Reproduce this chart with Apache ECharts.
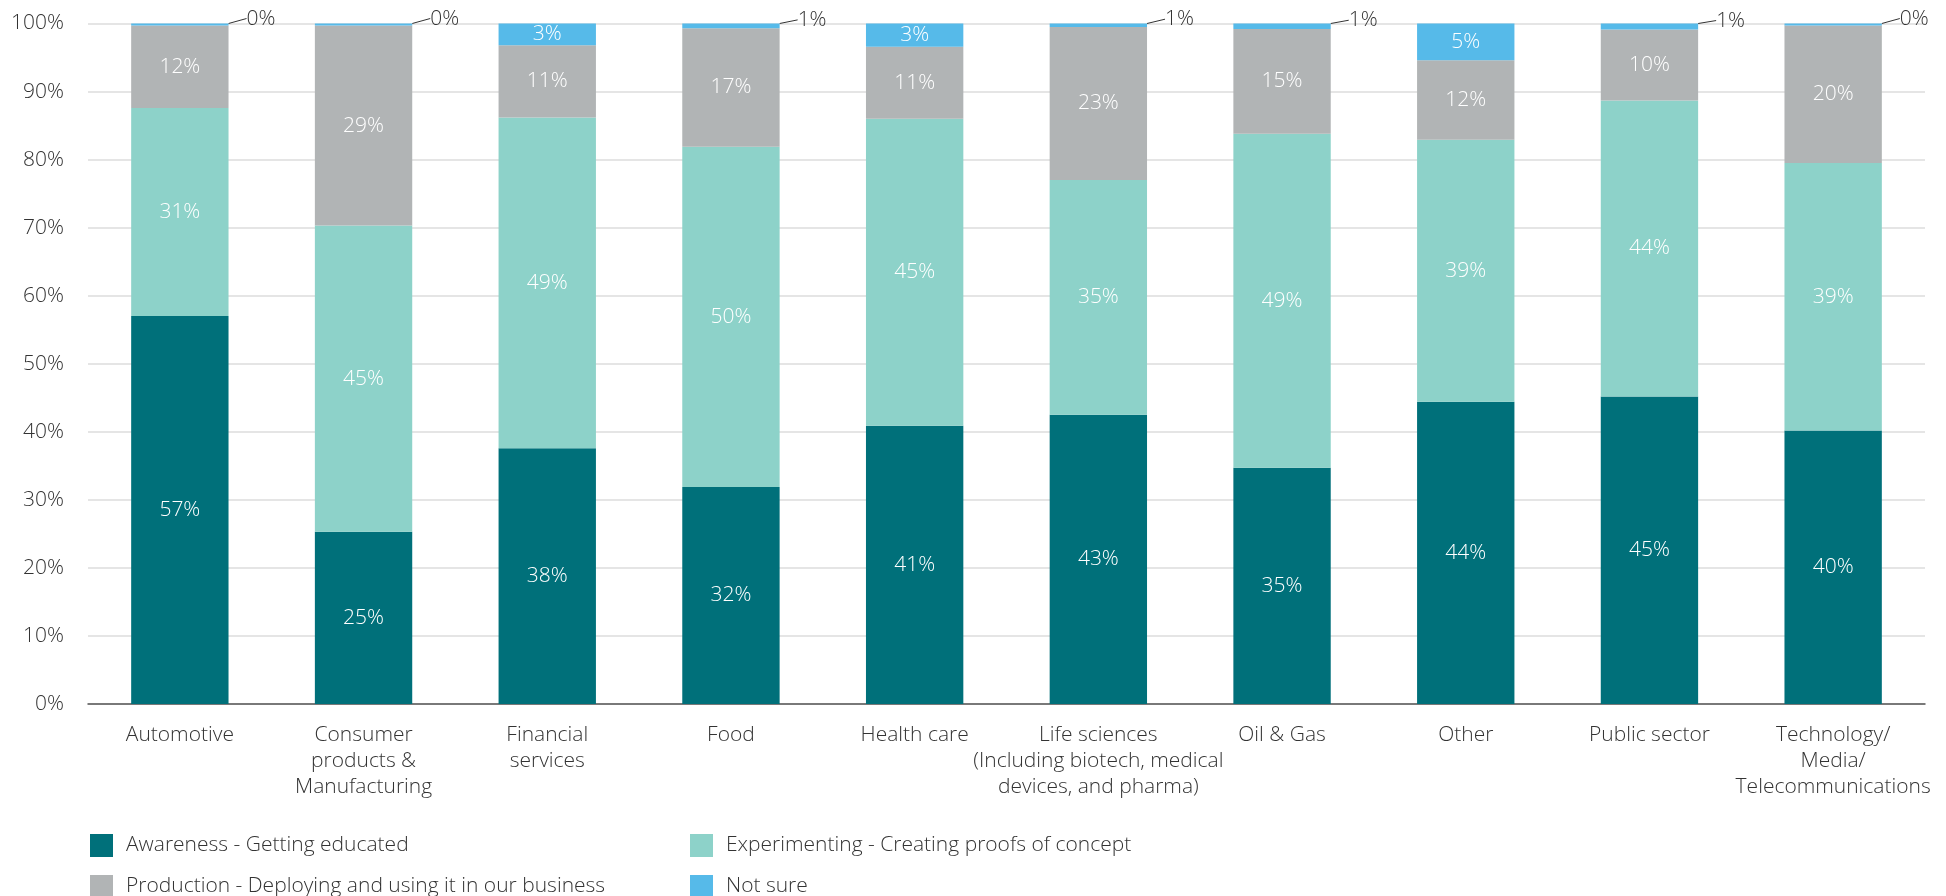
<!DOCTYPE html>
<html>
<head>
<meta charset="utf-8">
<script src="https://cdn.jsdelivr.net/npm/echarts@6/dist/echarts.min.js"></script>
<style>
html,body{margin:0;padding:0;background:#fff;}
#chart{width:1946px;height:896px;}
</style>
</head>
<body>
<div id="chart"></div>
<script>
const categories = [
  'Automotive',
  'Consumer\nproducts &\nManufacturing',
  'Financial\nservices',
  'Food',
  'Health care',
  'Life sciences\n(Including biotech, medical\ndevices, and pharma)',
  'Oil & Gas',
  'Other',
  'Public sector',
  'Technology/\nMedia/\nTelecommunications'
];
const awareness     = [57.0, 25.3, 37.6, 31.9, 40.9, 42.5, 34.7, 44.4, 45.2, 40.2];
const experimenting = [30.6, 45.0, 48.6, 50.0, 45.1, 34.5, 49.1, 38.5, 43.5, 39.3];
const production    = [12.1, 29.4, 10.6, 17.4, 10.6, 22.5, 15.4, 11.7, 10.4, 20.2];
const notSure       = [0.3,  0.3,  3.2,  0.7,  3.4,  0.5,  0.8,  5.4,  0.9,  0.3];
const yTicks = [0, 10, 20, 30, 40, 50, 60, 70, 80, 90, 100];

const seriesNames = [
  'Awareness - Getting educated',
  'Experimenting - Creating proofs of concept',
  'Production - Deploying and using it in our business',
  'Not sure'
];
const colors = ['#00707A', '#8DD2C9', '#B1B4B5', '#56BAE9'];
const FONT = '"Open Sans", "Noto Sans", sans-serif';
const FS = 21;

const chart = echarts.init(document.getElementById('chart'));

function makeSeries(name, values, color) {
  const data = values.map(v => {
    const small = v < 2;
    const item = { value: v };
    if (small) {
      item.label = {
        show: true, position: 'right', distance: 4,
        color: '#333', fontSize: FS, fontFamily: FONT, fontWeight: 300
      };
      item.labelLine = { show: true };
    } else {
      item.label = {
        show: true, position: 'inside',
        color: '#fff', fontSize: FS, fontFamily: FONT, fontWeight: 300
      };
      item.labelLine = { show: false };
    }
    return item;
  });
  return {
    name: name,
    type: 'bar',
    stack: 'total',
    barWidth: '53%',
    itemStyle: { color: color },
    label: {
      show: true,
      formatter: p => Math.round(p.value) + '%'
    },
    labelLine: {
      show: true,
      lineStyle: { color: '#333', width: 1 }
    },
    labelLayout: function (params) {
      if (params.dataIndex !== undefined && values[params.dataIndex] < 2) {
        return { dx: 14, dy: -6 };
      }
      return {};
    },
    data: data
  };
}

function legendItem(name, left, top) {
  return {
    orient: 'horizontal', left: left, top: top,
    itemWidth: 23, itemHeight: 23, padding: 0,
    icon: 'rect',
    data: [name],
    textStyle: { fontSize: FS, color: '#333', fontFamily: FONT, fontWeight: 300, padding: [0, 0, 0, 8] }
  };
}

const option = {
  animation: false,
  backgroundColor: '#fff',
  textStyle: { fontFamily: FONT },
  grid: { left: 88, right: 21, top: 23.5, bottom: 192, containLabel: false },
  legend: [
    legendItem(seriesNames[0], 90, 834),
    legendItem(seriesNames[2], 90, 875),
    legendItem(seriesNames[1], 690, 834),
    legendItem(seriesNames[3], 690, 875)
  ],
  xAxis: {
    type: 'category',
    data: categories,
    axisLine: { show: true, lineStyle: { color: '#555', width: 1.5 } },
    axisTick: { show: false },
    axisLabel: {
      interval: 0, color: '#333', fontSize: FS, fontFamily: FONT, fontWeight: 300,
      lineHeight: 26, margin: 18
    }
  },
  yAxis: {
    type: 'value',
    min: 0, max: 100, interval: 10,
    axisLine: { show: false },
    axisTick: { show: false },
    splitLine: { lineStyle: { color: '#dcdcdc', width: 1.5 } },
    axisLabel: {
      color: '#333', fontSize: FS, fontFamily: FONT, fontWeight: 300, margin: 24,
      formatter: v => yTicks.includes(v) ? v + '%' : ''
    }
  },
  series: [
    makeSeries(seriesNames[0], awareness, colors[0]),
    makeSeries(seriesNames[1], experimenting, colors[1]),
    makeSeries(seriesNames[2], production, colors[2]),
    makeSeries(seriesNames[3], notSure, colors[3])
  ]
};
chart.setOption(option);
</script>
</body>
</html>
